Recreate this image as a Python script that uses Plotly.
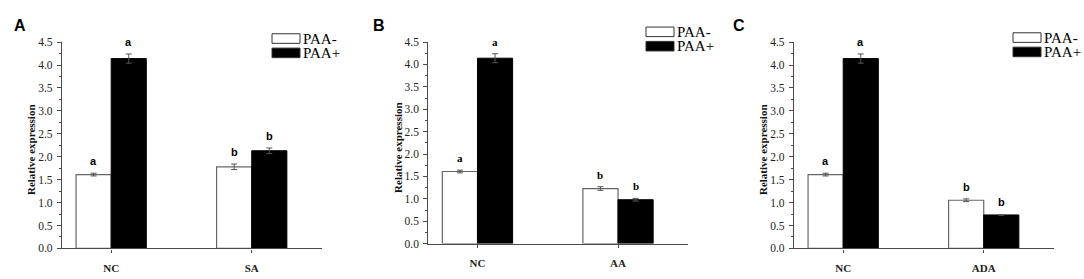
import plotly.graph_objects as go

W, H = 1084, 279

categories_A = ["NC", "SA"]
categories_B = ["NC", "AA"]
categories_C = ["NC", "ADA"]

paa_minus_A = [1.61, 1.78]
paa_minus_err_A = [0.03, 0.06]
paa_plus_A = [4.14, 2.13]
paa_plus_err_A = [0.10, 0.06]

paa_minus_B = [1.61, 1.23]
paa_minus_err_B = [0.03, 0.04]
paa_plus_B = [4.14, 0.98]
paa_plus_err_B = [0.10, 0.03]

paa_minus_C = [1.61, 1.05]
paa_minus_err_C = [0.03, 0.03]
paa_plus_C = [4.14, 0.73]
paa_plus_err_C = [0.10, 0.01]

letters_minus_A = ["a", "b"]
letters_plus_A = ["a", "b"]
letters_minus_B = ["a", "b"]
letters_plus_B = ["a", "b"]
letters_minus_C = ["a", "b"]
letters_plus_C = ["a", "b"]

series_names = ["PAA-", "PAA+"]
y_ticks = [0.0, 0.5, 1.0, 1.5, 2.0, 2.5, 3.0, 3.5, 4.0, 4.5]
y_tick_text = ["0.0", "0.5", "1.0", "1.5", "2.0", "2.5", "3.0", "3.5", "4.0", "4.5"]
panel_labels = ["A", "B", "C"]

panels = [
    (categories_A, paa_minus_A, paa_minus_err_A, paa_plus_A, paa_plus_err_A, letters_minus_A, letters_plus_A),
    (categories_B, paa_minus_B, paa_minus_err_B, paa_plus_B, paa_plus_err_B, letters_minus_B, letters_plus_B),
    (categories_C, paa_minus_C, paa_minus_err_C, paa_plus_C, paa_plus_err_C, letters_minus_C, letters_plus_C),
]

# pixel layout
x_dom_px = [(62, 322), (428.3, 688.3), (794, 1054)]
y_dom_px = [(253.3, 37.7), (248.3, 37.7), (253.3, 37.7)]
legend_px = [(272, 29), (646, 22), (1013, 28)]
letter_px = [(20, 20), (379, 20), (739, 20)]

AXC = "#4a4a4a"
SERIF = "Liberation Serif, Times New Roman, serif"
SANS = "Liberation Sans, Arial, sans-serif"

fig = go.Figure()
annotations = []
shapes = []

for i, (cats, ym, em, yp, ep, lm, lp) in enumerate(panels):
    sfx = "" if i == 0 else str(i + 1)
    xa, ya = "x" + sfx, "y" + sfx
    fig.add_trace(go.Bar(
        x=cats, y=ym, name=series_names[0], xaxis=xa, yaxis=ya,
        marker=dict(color="white", line=dict(color="#666666", width=1.2)),
        error_y=dict(type="data", array=em, color="#555555", thickness=1, width=3),
        showlegend=False, offsetgroup="m",
    ))
    fig.add_trace(go.Bar(
        x=cats, y=yp, name=series_names[1], xaxis=xa, yaxis=ya,
        marker=dict(color="black", line=dict(color="black", width=1)),
        error_y=dict(type="data", array=ep, color="#555555", thickness=1, width=3),
        showlegend=False, offsetgroup="p",
    ))
    # significance letters
    for j, c in enumerate(cats):
        annotations.append(dict(
            x=j - 0.125, y=ym[j] + em[j], xref=xa, yref=ya, text="<b>%s</b>" % lm[j],
            showarrow=False, yanchor="bottom", yshift=4,
            font=dict(family=SANS if i != 1 else SERIF, size=11, color="black")))
        annotations.append(dict(
            x=j + 0.125, y=yp[j] + ep[j], xref=xa, yref=ya, text="<b>%s</b>" % lp[j],
            showarrow=False, yanchor="bottom", yshift=4,
            font=dict(family=SANS if i != 1 else SERIF, size=11, color="black")))

    x0, x1 = x_dom_px[i]
    yb, yt = y_dom_px[i]
    fig.update_layout(**{
        "xaxis" + sfx: dict(
            domain=[x0 / W, x1 / W], anchor=ya, range=[-0.35, 1.5],
            showline=True, linecolor=AXC, linewidth=1.2,
            ticks="outside", ticklen=3, tickcolor=AXC,
            tickfont=dict(family=SERIF, size=11, color="#222"),
            ticklabelstandoff=6,
            tickvals=list(range(len(cats))), ticktext=["<b>%s</b>" % c for c in cats],
            showgrid=False, zeroline=False, fixedrange=True,
        ),
        "yaxis" + sfx: dict(
            domain=[1 - yb / H, 1 - yt / H], anchor=xa, range=[0, 4.5],
            showline=True, linecolor=AXC, linewidth=1.2,
            ticks="outside", ticklen=4, tickcolor=AXC,
            tickvals=y_ticks, ticktext=y_tick_text,
            tickfont=dict(family=SERIF, size=11.5, color="#222"),
            ticklabelstandoff=2,
            minor=dict(ticks="outside", ticklen=2, dtick=0.25, tickcolor=AXC, showgrid=False),
            showgrid=False, zeroline=False, fixedrange=True,
        ),
    })
    # y title
    annotations.append(dict(
        x=(x0 - 31) / W, y=1 - ((yb + yt) / 2 + 5) / H, xref="paper", yref="paper",
        text="<b>Relative expression</b>", showarrow=False, textangle=-90,
        xanchor="center", yanchor="middle",
        font=dict(family=SERIF, size=11, color="#111")))

    # panel letter
    lx, ly = letter_px[i]
    annotations.append(dict(
        x=lx / W, y=1 - ly / H, xref="paper", yref="paper", text="<b>%s</b>" % panel_labels[i],
        showarrow=False, xanchor="center", yanchor="middle",
        font=dict(family=SANS, size=16, color="black")))

    # legend
    gx, gy = legend_px[i]
    for k, (fill, name) in enumerate([("white", series_names[0]), ("black", series_names[1])]):
        top = gy + k * 15
        shapes.append(dict(
            type="rect", xref="paper", yref="paper",
            x0=gx / W, x1=(gx + 28) / W, y0=1 - (top + 10) / H, y1=1 - top / H,
            fillcolor=fill, line=dict(color="#333", width=1)))
        annotations.append(dict(
            x=(gx + 29) / W, y=1 - (top + 5) / H, xref="paper", yref="paper",
            text=name, showarrow=False, xanchor="left", yanchor="middle",
            font=dict(family=SERIF, size=15, color="black")))

fig.update_layout(
    width=W, height=H, margin=dict(l=0, r=0, t=0, b=0),
    paper_bgcolor="white", plot_bgcolor="white",
    barmode="group", bargap=0.5, bargroupgap=0,
    annotations=annotations, shapes=shapes, showlegend=False,
)

fig.write_html(
    "out.html",
    config={"displayModeBar": False},
    post_script="document.body.style.margin='0';document.body.style.overflow='hidden';",
)
